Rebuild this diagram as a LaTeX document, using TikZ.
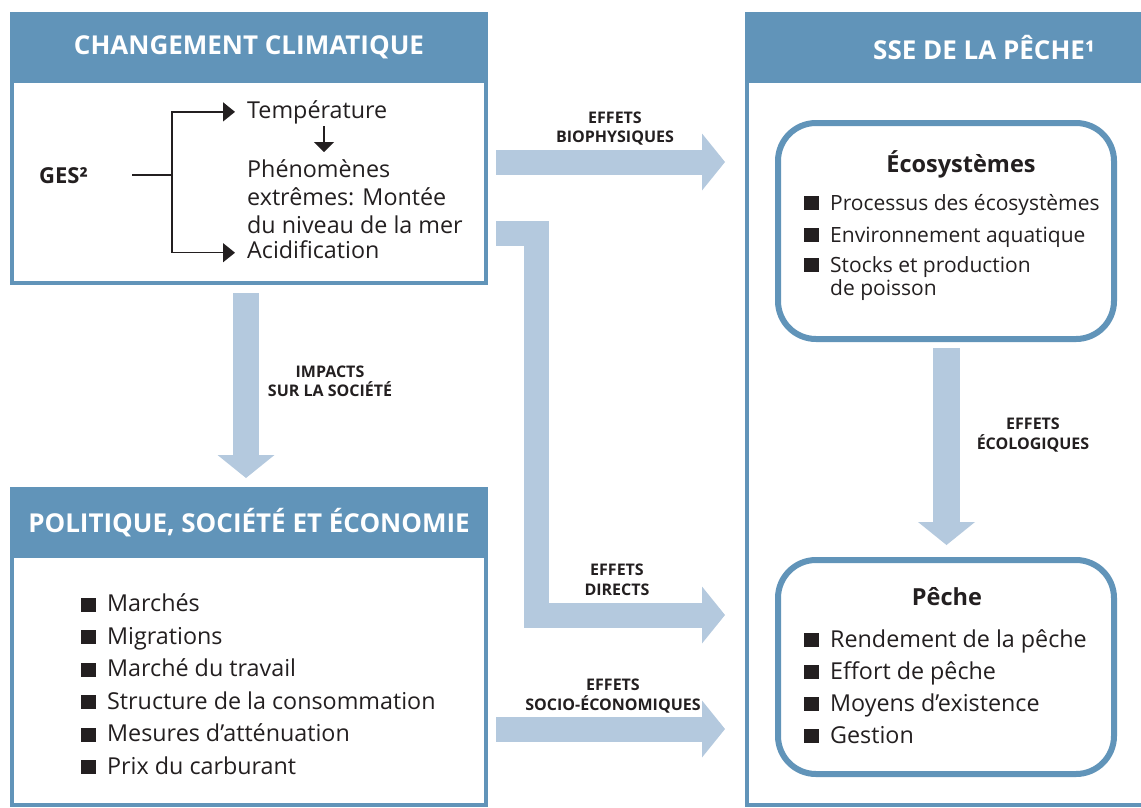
\documentclass[tikz,border=0pt]{standalone}
\usepackage{fontspec}
\setmainfont{Open Sans}
\usepackage{tikz}
\usetikzlibrary{arrows.meta}
\definecolor{headblue}{HTML}{6194B9}
\definecolor{arrowblue}{HTML}{B4C9DE}
\definecolor{ink}{HTML}{231F20}
\newcommand{\sqb}{\rule{15pt}{14pt}\hspace{11pt}}
\tikzstyle{panel}=[draw=headblue,line width=4pt,fill=white,minimum width=474pt,inner sep=0pt]
\tikzstyle{header}=[fill=headblue,draw=headblue,line width=4pt,minimum width=474pt,minimum height=67pt,inner sep=0pt,text=white,font=\fontsize{26}{30}\selectfont\bfseries]
\tikzstyle{inner box}=[draw=headblue,line width=6pt,fill=white,rounded corners=38pt,minimum width=336pt,inner sep=0pt]
\tikzstyle{box title}=[font=\fontsize{23.5}{28}\selectfont\bfseries,text=ink,inner sep=0pt,anchor=base]
\tikzstyle{item}=[font=\fontsize{23.3}{28}\selectfont,text=ink,inner sep=0pt,anchor=base west]
\tikzstyle{small item}=[item,font=\fontsize{21}{23}\selectfont]
\tikzstyle{effect}=[font=\fontsize{16}{19.5}\selectfont\bfseries,text=ink,align=center,inner sep=0pt]
\tikzstyle{block}=[draw=arrowblue,line width=25pt,-{Triangle[length=23pt,width=57pt,sep=2pt,line width=0pt]}]
\tikzstyle{link}=[draw=ink,line width=1.3pt]
\tikzstyle{tip}=[-{Triangle[length=12pt,width=19pt]}]

\begin{document}
\begin{tikzpicture}[x=1pt,y=-1pt]
        \useasboundingbox (0,0) rectangle (1141,807);
        % panels
        \node[panel,minimum height=269pt] (cc) at (249,148.5) {};
        \node[header] (ccT) at (249,47.5) {CHANGEMENT CLIMATIQUE};
        \node[panel,minimum height=316pt] (pol) at (249,647) {};
        \node[header] (polT) at (249,522.5) {POLITIQUE, SOCIÉTÉ ET ÉCONOMIE};
        \node[panel,minimum height=791pt] (sse) at (984,409.5) {};
        \node[header] (sseT) at (984,47.5) {SSE DE LA PÊCHE¹};
        \node[inner box,minimum height=216pt] (eco) at (946,231) {};
        \node[inner box,minimum height=214pt] (pec) at (946,667) {};

        % climate
        \node[box title,anchor=base west,font=\fontsize{22}{26}\selectfont\bfseries] (ges) at (39,183) {GES²};
        \node[item] (temp) at (247,118) {Température};
        \foreach \t/\y [count=\i] in {Phénomènes/177,extrêmes: Montée/205,du niveau de la mer/233}
          \node[item] (phen\i) at (247,\y) {\t};
        \node[item] (acid) at (247,258) {Acidification};
        \coordinate (gesR) at (132,175);
        \coordinate (fork) at (172,175);
        \draw[link] (gesR) -- (fork);
        \draw[link,tip] (fork) |- ([xshift=-12pt]temp.west);
        \draw[link,tip] (fork) |- ([xshift=-12pt,yshift=-3.5pt]acid.west);
        \draw[link,-{Triangle[length=10pt,width=20pt]}] (324,126) -- (324,152);

        % politics
        \foreach \t [count=\i] in {Marchés,Migrations,Marché du travail,Structure de la consommation,Mesures d’atténuation,Prix du carburant}
          \node[item] (pol\i) at (81,611.5+32.5*\i-32.5) {\sqb\t};

        % ecosystems and fisheries
        \node[box title] (ecoT) at (961,172) {Écosystèmes};
        \node[small item] (eco1) at (804,210) {\sqb Processus des écosystèmes};
        \node[small item] (eco2) at (804,242) {\sqb Environnement aquatique};
        \node[small item] (eco3) at (804,272) {\sqb Stocks et production};
        \node[small item] (eco3b) at (830,295) {de poisson};
        \node[box title] (pecT) at (947,605) {Pêche};
        \foreach \t [count=\i] in {Rendement de la pêche,Effort de pêche,Moyens d’existence,Gestion}
          \node[item] (pec\i) at (804,647+32*\i-32) {\sqb\t};

        % effects
        \coordinate (bioA) at (496,162);
        \coordinate (bioB) at (727,162);
        \coordinate (dirA) at (496,233);
        \coordinate (dirK) at (536.5,615);
        \coordinate (dirB) at (727,615);
        \coordinate (socA) at (496,729);
        \coordinate (socB) at (727,729);
        \coordinate (impA) at (246,293);
        \coordinate (impB) at (246,480);
        \coordinate (ecoA) at (946.5,348);
        \coordinate (ecoB) at (946.5,547);
        \draw[block] (bioA) -- (bioB);
        \draw[block] (dirA) -| (dirK) -- (dirB);
        \draw[block] (socA) -- (socB);
        \draw[block,line width=26pt] (impA) -- (impB);
        \draw[block,line width=27pt] (ecoA) -- (ecoB);
        \node[effect] (bioL) at (615,128.5) {EFFETS\\BIOPHYSIQUES};
        \node[effect] (dirL) at (617,580) {EFFETS\\DIRECTS};
        \node[effect] (socL) at (613,696) {EFFETS\\SOCIO-ÉCONOMIQUES};
        \node[effect] (impL) at (330,381.5) {IMPACTS\\SUR LA SOCIÉTÉ};
        \node[effect] (ecoL) at (1033,435) {EFFETS\\ÉCOLOGIQUES};
      \end{tikzpicture}
\end{document}
